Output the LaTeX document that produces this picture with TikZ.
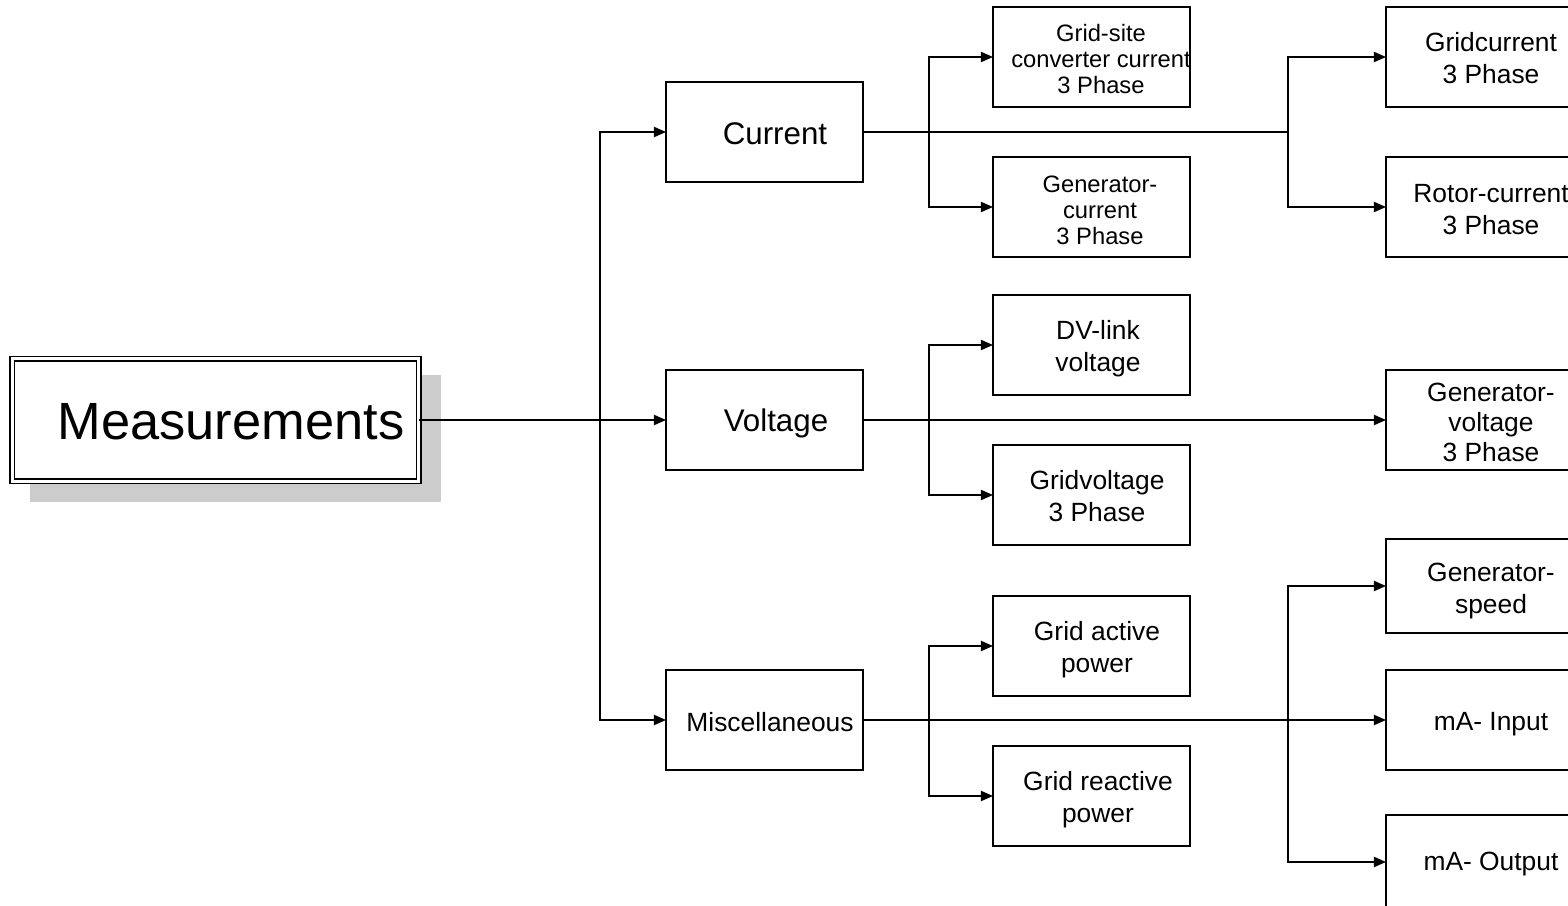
\documentclass[tikz,border=0pt]{standalone}
\usepackage{fontspec}
\setmainfont{Liberation Sans}
\usetikzlibrary{arrows.meta}
\begin{document}
\begin{tikzpicture}[x=0.01cm,y=-0.01cm,
  line width=0.35pt,
  box/.style={draw, minimum width=1.97cm, minimum height=1cm, inner sep=0pt, outer sep=0pt},
  rbox/.style={draw, minimum width=2.10cm, minimum height=1cm, inner sep=0pt, outer sep=0pt},
  lbl/.style={inner sep=0pt, align=center},
  fbig/.style={font=\fontsize{14.9pt}{17pt}\selectfont},
  fmid/.style={font=\fontsize{8.9pt}{10.5pt}\selectfont},
  fnorm/.style={font=\fontsize{7.5pt}{9.2pt}\selectfont},
  fnorm3/.style={font=\fontsize{7.5pt}{8.5pt}\selectfont},
  fsmall/.style={font=\fontsize{6.75pt}{7.37pt}\selectfont},
  arr/.style={-{Triangle[length=3.4pt,width=2.9pt]}}]
\useasboundingbox (0,0) rectangle (1568,906);
\clip (0,0) rectangle (1568,906);
% Measurements box with shadow
\fill[black!20] (30,375) rectangle (441,502);
\node[draw, double, double distance=1pt, fill=white, minimum width=4.06cm, minimum height=1.225cm, inner sep=0pt, outer sep=0pt] (meas) at (215.5,420) {};
\node[lbl, fbig] (meas-t) at (231,422) {Measurements};
% level 1
\node[box] (cur) at (764.5,132) {};
\node[lbl, fmid] (cur-t) at (775,134) {Current};
\node[box] (vol) at (764.5,420) {};
\node[lbl, fmid] (vol-t) at (776,423) {Voltage};
\node[box] (misc) at (764.5,720) {};
\node[lbl, fnorm] (misc-t) at (770,722) {Miscellaneous};
% level 2 (middle column)
\node[box] (gsc) at (1091.5,57) {};
\node[lbl, fsmall] (gsc-t) at (1101,59) {Grid-site\\converter current\\3 Phase};
\node[box] (genc) at (1091.5,207) {};
\node[lbl, fsmall] (genc-t) at (1100,210) {Generator-\\current\\3 Phase};
\node[box] (dvl) at (1091.5,345) {};
\node[lbl, fnorm] (dvl-t) at (1098,349) {DV-link\\voltage};
\node[box] (gridv) at (1091.5,495) {};
\node[lbl, fnorm] (gridv-t) at (1097,496) {Gridvoltage\\3 Phase};
\node[box] (gap) at (1091.5,646) {};
\node[lbl, fnorm] (gap-t) at (1097,650) {Grid active\\power};
\node[box] (grp) at (1091.5,796) {};
\node[lbl, fnorm] (grp-t) at (1098,800) {Grid reactive\\power};
% right column
\node[rbox] (gridc) at (1491,57) {};
\node[lbl, fnorm] (gridc-t) at (1491,58) {Gridcurrent\\3 Phase};
\node[rbox] (rotc) at (1491,207) {};
\node[lbl, fnorm] (rotc-t) at (1491,209.5) {Rotor-current\\3 Phase};
\node[rbox] (genv) at (1491,420) {};
\node[lbl, fnorm3] (genv-t) at (1491,422.5) {Generator-\\voltage\\3 Phase};
\node[rbox, minimum height=0.94cm] (gens) at (1491,586) {};
\node[lbl, fnorm] (gens-t) at (1491,591) {Generator-\\speed};
\node[rbox] (mai) at (1491,720) {};
\node[lbl, fnorm] (mai-t) at (1491,724) {mA- Input};
\node[rbox, minimum height=0.94cm] (mao) at (1491,862) {};
\node[lbl, fnorm] (mao-t) at (1491,864) {mA- Output};
% connectors
\coordinate (bus) at (600,420);
\draw[arr] (meas.east) -- (vol.west);
\draw[arr] (bus) |- (cur.west);
\draw[arr] (bus) |- (misc.west);
% current
\coordinate (c1) at (929,132);
\coordinate (c2) at (1288,132);
\draw (cur.east) -- (c2);
\draw[arr] (c1) |- (gsc.west);
\draw[arr] (c1) |- (genc.west);
\draw[arr] (c2) |- (gridc.west);
\draw[arr] (c2) |- (rotc.west);
% voltage
\coordinate (v1) at (929,420);
\draw[arr] (vol.east) -- (genv.west);
\draw[arr] (v1) |- (dvl.west);
\draw[arr] (v1) |- (gridv.west);
% misc
\coordinate (m1) at (929,720);
\coordinate (m2) at (1288,720);
\draw[arr] (misc.east) -- (mai.west);
\draw[arr] (m1) |- (gap.west);
\draw[arr] (m1) |- (grp.west);
\draw[arr] (m2) |- (gens.west);
\draw[arr] (m2) |- (mao.west);
\end{tikzpicture}
\end{document}
